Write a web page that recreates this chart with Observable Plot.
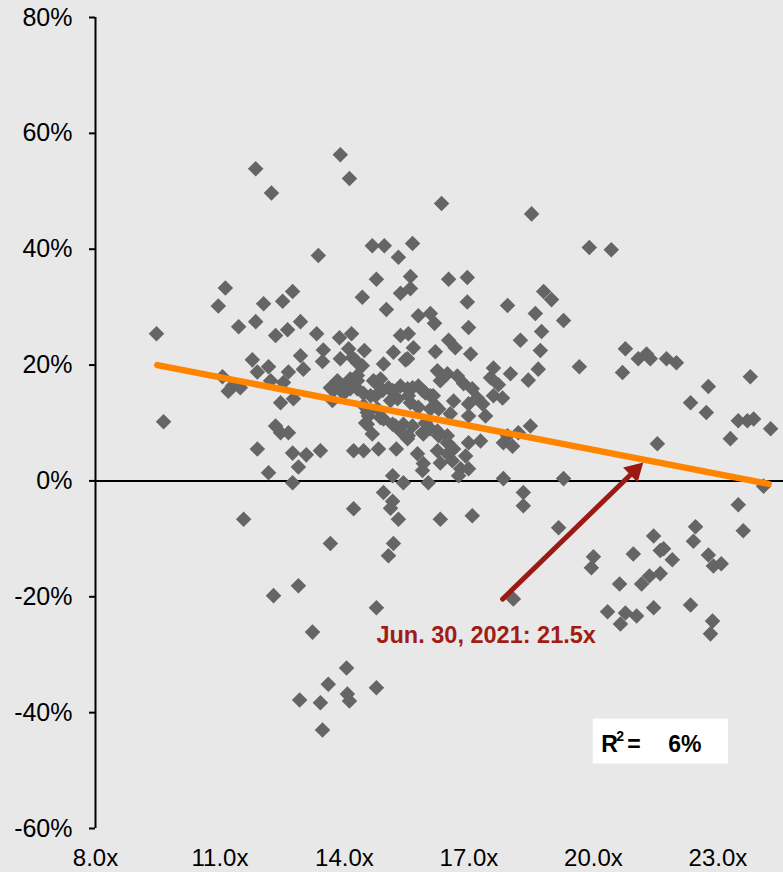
<!DOCTYPE html>
<html>
<head>
<meta charset="utf-8">
<script src="https://cdn.jsdelivr.net/npm/d3@7"></script>
<script src="https://cdn.jsdelivr.net/npm/@observablehq/plot@0.6"></script>
<style>
  html, body { margin: 0; padding: 0; background: #e8e8e8; }
  #chart { width: 783px; height: 872px; }
</style>
</head>
<body>
<div id="chart"></div>
<script>
// Forward P/E (x) and subsequent return in % (y)
const peRatio = [
  9.47, 9.64, 10.96, 11.13, 11.06, 11.45, 11.30, 11.20, 11.57, 11.86, 12.24, 13.90, 14.12, 13.37, 12.05, 12.51, 12.75, 11.86, 12.34, 12.63,
  12.94, 13.33, 13.88, 14.17, 16.34, 18.51, 14.67, 14.96, 15.64, 15.30, 14.77, 15.59, 15.59, 15.35, 14.43, 15.01, 16.51, 16.96, 16.96, 15.78,
  16.07, 16.17, 16.99, 17.93, 18.80, 18.99, 18.60, 19.28, 18.75, 15.35, 15.54, 16.51, 18.24, 19.90, 20.43, 11.78, 11.90, 12.17, 12.65, 12.94,
  13.01, 13.49, 13.47, 13.90, 14.10, 11.49, 12.22, 12.53, 12.46, 12.77, 13.66, 13.71, 13.98, 14.14, 12.34, 12.46, 12.65, 11.90, 12.75, 13.08,
  13.42, 12.89, 12.17, 12.75, 14.22, 14.22, 16.67, 18.72, 14.48, 15.18, 15.66, 15.47, 14.94, 16.19, 17.04, 18.67, 18.43, 18.00, 17.59, 17.52,
  17.71, 17.81, 17.59, 16.24, 16.48, 16.72, 16.31, 16.87, 17.08, 17.20, 17.33, 16.99, 16.63, 16.19, 16.27, 16.55, 16.99, 17.40, 14.31, 14.75,
  14.92, 15.16, 15.35, 15.64, 15.88, 16.07, 15.54, 15.11, 14.63, 14.31, 14.46, 14.80, 14.58, 14.51, 14.94, 15.23, 15.42, 15.54, 15.88, 16.07,
  15.95, 14.67, 14.46, 14.82, 15.25, 15.76, 15.90, 15.88, 16.27, 16.48, 16.24, 16.48, 16.63, 16.31, 16.60, 16.92, 16.99, 17.28, 16.80, 16.99,
  16.75, 15.16, 15.42, 16.02, 17.83, 17.83, 18.05, 17.93, 18.19, 18.48, 19.28, 14.94, 15.16, 15.11, 15.30, 16.31, 17.08, 18.31, 18.31, 19.16,
  14.19, 14.31, 20.77, 21.08, 21.28, 21.37, 21.76, 22.00, 19.66, 20.70, 23.78, 22.77, 22.34, 22.72, 23.49, 23.71, 23.86, 24.27, 23.30, 21.54,
  24.10, 23.49, 22.46, 23.61, 13.66, 12.89, 12.29, 13.23, 14.05, 13.61, 14.07, 14.12, 12.92, 13.42, 13.47, 15.18, 15.06, 14.77, 14.77, 18.07,
  21.45, 22.41, 20.00, 19.95, 20.96, 21.61, 21.69, 21.90, 22.77, 22.89, 23.08, 20.63, 21.16, 21.35, 21.61, 20.34, 20.77, 21.04, 20.65, 21.45,
  22.34, 22.87, 22.82, 14.27, 14.43, 15.52, 13.83, 14.14, 14.31, 14.70, 14.87, 15.06, 15.52, 15.78, 15.95, 16.14, 13.73, 13.98, 14.46, 14.75,
  15.28, 15.59, 15.78, 16.07, 14.55, 14.55, 14.87, 15.16, 15.35, 15.64, 15.90, 15.52, 16.24, 16.48
];
const returnPct = [
  25.4, 10.2, 30.2, 33.3, 18.0, 26.6, 16.4, 15.5, -6.6, 53.9, 49.7, 56.3, 52.2, 38.9, 30.6, 31.0, 32.7, 27.5, 25.1, 26.1,
  27.5, 25.4, 24.7, 25.4, 47.9, 46.1, 40.6, 40.6, 41.0, 38.6, 34.8, 35.3, 33.2, 32.4, 31.7, 29.6, 34.8, 35.1, 30.9, 28.5,
  28.9, 27.2, 26.5, 30.3, 32.7, 31.3, 28.9, 27.7, 25.8, 25.1, 25.4, 24.3, 24.3, 40.3, 39.9, 20.9, 18.8, 19.7, 18.8, 21.6,
  19.3, 22.6, 20.6, 21.1, 22.8, 16.1, 17.3, 17.0, 13.5, 14.2, 16.1, 13.9, 16.4, 15.9, 9.5, 8.3, 8.3, 5.5, 4.8, 4.5,
  5.2, 2.4, 1.4, -0.3, 5.2, -4.8, 23.0, 22.5, 22.5, 22.2, 23.0, 20.9, 20.2, 22.3, 21.9, 19.3, 17.4, 18.5, 19.5, 17.8,
  16.6, 14.3, 14.7, 19.0, 18.5, 18.1, 17.3, 16.8, 15.9, 14.3, 13.3, 13.3, 13.8, 13.0, 12.4, 11.6, 11.2, 11.2, 17.3, 17.0,
  15.6, 15.6, 16.4, 16.1, 15.6, 14.7, 14.7, 13.9, 14.7, 15.9, 13.0, 12.4, 11.2, 10.0, 10.7, 9.5, 9.8, 7.8, 8.3, 9.0,
  10.0, 8.1, 5.2, 5.5, 5.5, 4.7, 3.0, 1.8, 7.8, 6.6, 5.2, 4.7, 5.5, 3.1, 3.5, 4.3, 6.6, 6.9, 2.1, 2.1,
  0.9, 0.9, -0.3, -0.3, 0.4, 6.6, 6.0, 7.8, 8.3, 9.5, 0.4, -2.0, -3.5, -4.7, -6.6, -6.6, -6.0, -2.0, -4.3, -8.1,
  21.3, 20.4, 22.8, 21.1, 21.9, 21.1, 21.1, 20.4, 19.7, 18.7, 18.0, 16.3, 13.5, 11.8, 10.4, 10.4, 10.7, 9.0, 7.3, 6.4,
  -0.9, -4.1, -7.9, -8.6, -10.8, -18.1, -19.8, -26.1, -32.3, -35.1, -36.8, -38.0, -37.8, -38.3, -43.0, -10.8, -12.9, -21.9, -35.7, -20.4,
  -9.5, -10.4, -13.1, -15.0, -12.6, -12.0, -11.7, -13.6, -12.8, -14.7, -14.3, -17.8, -17.8, -16.4, -16.0, -22.6, -22.8, -23.3, -24.7, -21.9,
  -21.4, -24.2, -26.4, 20.8, 19.9, 21.1, 17.3, 17.6, 18.2, 17.3, 17.6, 16.1, 15.9, 16.4, 15.2, 14.7, 15.6, 15.1, 15.1, 14.7,
  14.2, 13.5, 12.7, 12.4, 11.8, 9.8, 10.9, 9.8, 8.6, 9.5, 8.1, 7.3, 8.6, 7.8
];

// Regression line endpoints (from the chart)
const trendPE = [9.49, 24.22];
const trendRet = [20.0, -0.5];

// Current valuation annotation
const currentLabel = "Jun. 30, 2021: 21.5x";
const arrowFrom = {pe: 17.81, ret: -20.4};
const arrowTo = {pe: 21.2, ret: 3.2};
const labelAt = {pe: 14.77, ret: -26.6};

// R-squared box
const rSquaredParts = [
  {text: "R", dx: 7, dy: 3, size: 23},
  {text: "2", dx: 22, dy: -5, size: 14},
  {text: "=", dx: 33, dy: 3, size: 23},
  {text: "6%", dx: 74, dy: 3, size: 23}
];
const rBox = {pe1: 20.02, pe2: 23.23, ret1: -41.3, ret2: -48.7};

const xTicks = [8, 11, 14, 17, 20, 23];
const yTicks = [-60, -40, -20, 0, 20, 40, 60, 80];
const xDomain = [8, 24.58];
const yDomain = [-60, 80];

const W = 783, H = 872;
const M = {left: 95, right: 0, top: 17, bottom: 44};

const points = peRatio.map((pe, i) => ({pe, ret: returnPct[i]}));
const trend = trendPE.map((pe, i) => ({pe, ret: trendRet[i]}));

// Arrow head: filled triangle pointing along the arrow direction
const sx = Plot.scale({x: {domain: xDomain, range: [M.left, W - M.right]}});
const sy = Plot.scale({y: {domain: yDomain, range: [H - M.bottom, M.top]}});
const tailPx = [sx.apply(arrowFrom.pe), sy.apply(arrowFrom.ret)];
const tipPx = [sx.apply(arrowTo.pe), sy.apply(arrowTo.ret)];
const ang = Math.atan2(tipPx[1] - tailPx[1], tipPx[0] - tailPx[0]);
const headS = 12;
const headCenter = {
  pe: sx.invert(tipPx[0] - headS * Math.cos(ang)),
  ret: sy.invert(tipPx[1] - headS * Math.sin(ang))
};
const headR = (headS / 0.6824) / Math.sqrt(Math.PI);
const headRotate = ang * 180 / Math.PI + 90;

const font = "'Liberation Sans', Arial, sans-serif";
const arrowColor = "#9b1b14";
const rMid = (rBox.ret1 + rBox.ret2) / 2;

const chart = Plot.plot({
  width: W,
  height: H,
  marginLeft: M.left,
  marginRight: M.right,
  marginTop: M.top,
  marginBottom: M.bottom,
  style: {background: "#e8e8e8", fontFamily: font, fontSize: "25px", color: "#000", overflow: "visible"},
  x: {domain: xDomain, label: null},
  y: {domain: yDomain, label: null},
  marks: [
    Plot.axisY({ticks: yTicks, tickFormat: d => `${d}%`, tickSize: 6, tickPadding: 17, strokeWidth: 2, fontSize: 25, label: null}),
    Plot.axisX({ticks: xTicks, tickFormat: d => `${d.toFixed(1)}x`, tickSize: 0, tickPadding: 20, fontSize: 24, label: null}),
    Plot.ruleX([xDomain[0]], {y1: yDomain[0], y2: yDomain[1], stroke: "#000", strokeWidth: 2}),
    Plot.ruleY([0], {stroke: "#000", strokeWidth: 2}),
    Plot.dot(points, {x: "pe", y: "ret", symbol: "diamond2", r: 7, fill: "#656565", stroke: "none"}),
    Plot.line(trend, {x: "pe", y: "ret", stroke: "#ff8400", strokeWidth: 6.5, strokeLinecap: "round"}),
    Plot.link([0], {x1: arrowFrom.pe, y1: arrowFrom.ret, x2: headCenter.pe, y2: headCenter.ret,
      stroke: arrowColor, strokeWidth: 5, strokeLinecap: "round"}),
    Plot.dot([0], {x: headCenter.pe, y: headCenter.ret, symbol: "triangle2", r: headR, rotate: headRotate,
      fill: arrowColor, stroke: "none"}),
    Plot.text([currentLabel], {x: labelAt.pe, y: labelAt.ret, text: d => d, textAnchor: "start",
      fill: "#a01c14", fontWeight: "bold", fontSize: 23.5, fontFamily: font}),
    Plot.rect([0], {x1: rBox.pe1, x2: rBox.pe2, y1: rBox.ret1, y2: rBox.ret2, fill: "#ffffff", stroke: "#ffffff", strokeWidth: 2}),
    ...rSquaredParts.map(p => Plot.text([p.text], {x: rBox.pe1, y: rMid, dx: p.dx, dy: p.dy, text: d => d,
      textAnchor: "start", fill: "#000", fontWeight: "bold", fontSize: p.size, fontFamily: font}))
  ]
});

document.getElementById("chart").appendChild(chart);
</script>
</body>
</html>
